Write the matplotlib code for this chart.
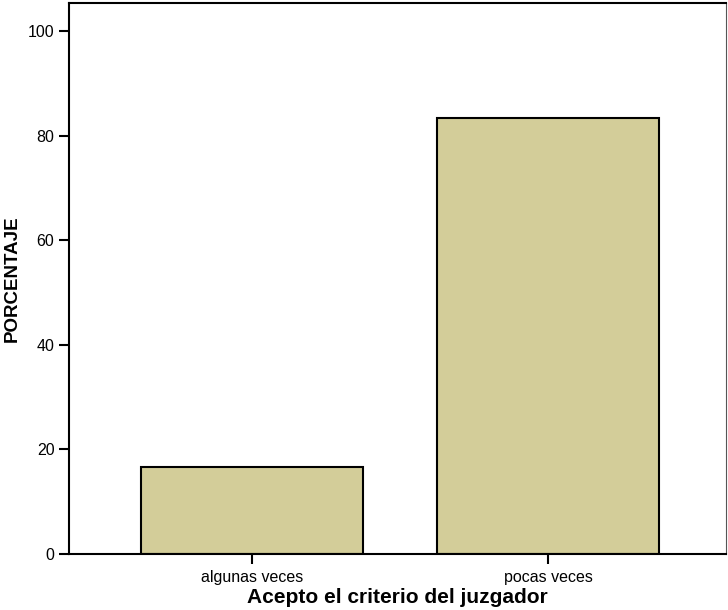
import matplotlib
matplotlib.use("Agg")
import matplotlib.pyplot as plt

categories = ["algunas veces", "pocas veces"]
values = [16.67, 83.33]
yticks = [0, 20, 40, 60, 80, 100]

plt.rcParams['font.family'] = ['Liberation Sans', 'DejaVu Sans']

fig = plt.figure(figsize=(7.28, 6.10), dpi=100)
ax = fig.add_axes([69/728, 1-554/610, (726-69)/728, (554-3)/610])

x = list(range(len(categories)))
ax.bar(x, values, width=0.75, color="#D3CD99", edgecolor="black", linewidth=1.5, zorder=2)

ax.set_xlim(-0.618, 1.6)
ax.set_ylim(0, 105.4)
ax.set_yticks(yticks)
ax.set_yticklabels([str(v) for v in yticks])
ax.set_xticks(x)
ax.set_xticklabels(categories)
ax.tick_params(axis='both', labelsize=11.5, width=1.5, length=7.5, direction='out', colors='black')
ax.tick_params(axis='y', pad=3)
ax.tick_params(axis='x', pad=4)

for s in ["left", "bottom", "top"]:
    ax.spines[s].set_linewidth(1.5)
    ax.spines[s].set_color("black")
ax.spines["right"].set_linewidth(0.8)
ax.spines["right"].set_color("#555555")

ax.set_xlabel("Acepto el criterio del juzgador", fontsize=15, fontweight="bold", labelpad=2)
fig.text(12.5/728, 1-279/610, "PORCENTAJE", fontsize=13.5, fontweight="bold",
         rotation=90, ha="center", va="center")

fig.savefig("out.png", dpi=100)
